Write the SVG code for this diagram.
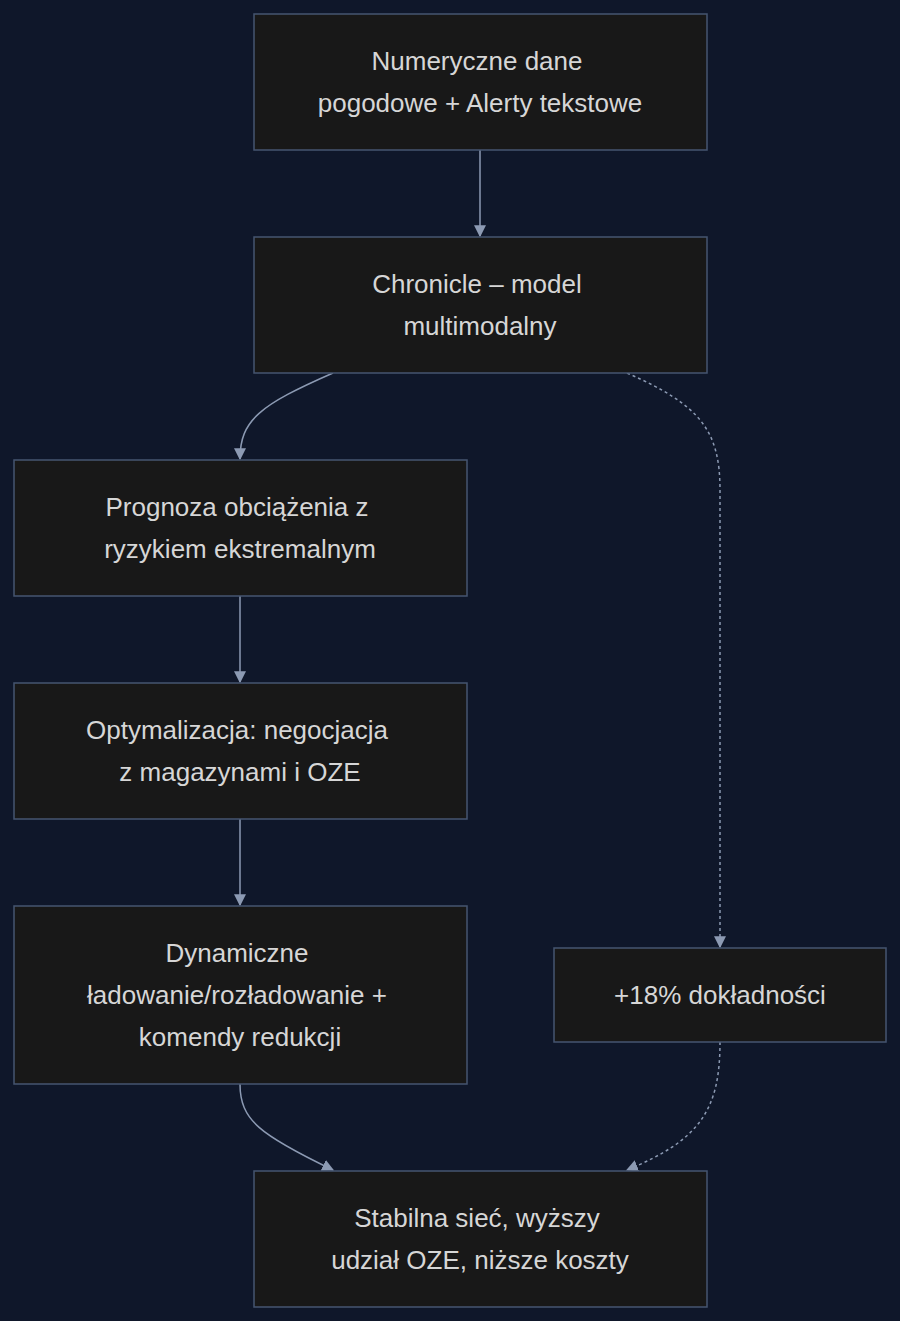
<svg xmlns="http://www.w3.org/2000/svg" width="900" height="1321" viewBox="0 0 900 1321">
<style>
.n rect{fill:#181818;stroke:#465570;stroke-width:1.5}
.n text{fill:#d6d6d6;font-family:"Liberation Sans",Arial,sans-serif;font-size:26px;text-anchor:middle}
.e path{fill:none;stroke:#8c9ab3;stroke-width:1.5}
.e .d{stroke-dasharray:3 3}
</style>
<defs><marker id="a" viewBox="0 0 10 10" refX="9" refY="5" markerWidth="8" markerHeight="8" orient="auto-start-reverse"><path d="M0,0L10,5L0,10z" fill="#8c9ab3"/></marker></defs>
<rect width="900" height="1321" fill="#0f172a"/>
<g class="e">
<path d="M480,150V236" marker-end="url(#a)"/>
<path d="M333,373C260,405 240,420 240,459" marker-end="url(#a)"/>
<path class="d" d="M627,373C700,405 720,430 720,490V947" marker-end="url(#a)"/>
<path d="M240,596V682" marker-end="url(#a)"/>
<path d="M240,819V905" marker-end="url(#a)"/>
<path d="M240,1084C240,1120 260,1135 333,1170" marker-end="url(#a)"/>
<path class="d" d="M720,1042C720,1110 700,1140 627,1170" marker-end="url(#a)"/>
</g>
<g id="n1" class="n"><rect x="254" y="14" width="453" height="136"/><text x="477" y="70">Numeryczne dane</text><text x="480" y="112">pogodowe + Alerty tekstowe</text></g>
<g id="n2" class="n"><rect x="254" y="237" width="453" height="136"/><text x="477" y="293">Chronicle – model</text><text x="480" y="335">multimodalny</text></g>
<g id="n3" class="n"><rect x="14" y="460" width="453" height="136"/><text x="237" y="516">Prognoza obciążenia z</text><text x="240" y="558">ryzykiem ekstremalnym</text></g>
<g id="n4" class="n"><rect x="14" y="683" width="453" height="136"/><text x="237" y="739">Optymalizacja: negocjacja</text><text x="240" y="781">z magazynami i OZE</text></g>
<g id="n5" class="n"><rect x="14" y="906" width="453" height="178"/><text x="237" y="962">Dynamiczne</text><text x="237" y="1004">ładowanie/rozładowanie +</text><text x="240" y="1046">komendy redukcji</text></g>
<g id="n6" class="n"><rect x="554" y="948" width="332" height="94"/><text x="720" y="1004">+18% dokładności</text></g>
<g id="n7" class="n"><rect x="254" y="1171" width="453" height="136"/><text x="477" y="1227">Stabilna sieć, wyższy</text><text x="480" y="1269">udział OZE, niższe koszty</text></g>
</svg>
